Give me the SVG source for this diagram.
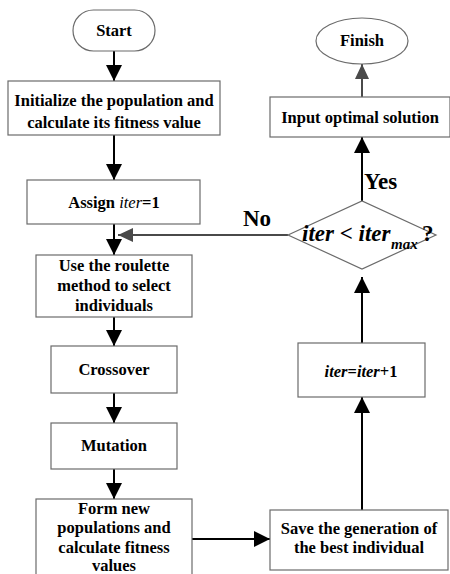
<svg xmlns="http://www.w3.org/2000/svg" width="450" height="574" viewBox="0 0 450 574">
  <defs>
    <marker id="ah" markerUnits="userSpaceOnUse" markerWidth="16" markerHeight="20" refX="16" refY="8" orient="auto">
      <path d="M0,0 L16,8 L0,16 Z" fill="#000"/>
    </marker>
    <marker id="ahg" markerUnits="userSpaceOnUse" markerWidth="16" markerHeight="16" refX="15" refY="7" orient="auto">
      <path d="M0,0 L15,7 L0,14 Z" fill="#4a4a4a"/>
    </marker>
  </defs>
  <style>
    .box { fill: #fff; stroke: #6b6b6b; stroke-width: 1.2; }
    .t { font-family: "Liberation Serif", "DejaVu Serif", "Times New Roman", serif; font-weight: bold; font-size: 16.5px; fill: #000; text-anchor: middle; }
    .ti { font-style: italic; }
    .line { stroke: #000; stroke-width: 2; fill: none; }
    .lineg { stroke: #4a4a4a; stroke-width: 2; fill: none; }
    .big { font-family: "Liberation Serif", "DejaVu Serif", "Times New Roman", serif; font-weight: bold; font-size: 23px; fill: #000; }
    .sub { font-family: "Liberation Serif", "DejaVu Serif", "Times New Roman", serif; font-weight: bold; font-style: italic; font-size: 15px; fill: #000; }
  </style>

  <!-- connectors -->
  <g id="connectors">
    <line class="line" x1="114" y1="51" x2="114" y2="81" marker-end="url(#ah)"/>
    <line class="line" x1="114" y1="135" x2="114" y2="180" marker-end="url(#ah)"/>
    <line class="line" x1="114" y1="224" x2="114" y2="255" marker-end="url(#ah)"/>
    <line class="lineg" x1="288" y1="235" x2="118" y2="235" marker-end="url(#ahg)"/>
    <line class="line" x1="114" y1="317" x2="114" y2="346" marker-end="url(#ah)"/>
    <line class="line" x1="114" y1="393" x2="114" y2="423" marker-end="url(#ah)"/>
    <line class="line" x1="114" y1="469" x2="114" y2="499" marker-end="url(#ah)"/>
    <line class="line" x1="192" y1="539" x2="270" y2="539" marker-end="url(#ah)"/>
    <line class="line" x1="362" y1="510" x2="362" y2="397" marker-end="url(#ah)"/>
    <line class="line" x1="362" y1="343" x2="362" y2="277" marker-end="url(#ah)"/>
    <line class="line" x1="362" y1="201" x2="362" y2="137" marker-end="url(#ah)"/>
    <line class="lineg" x1="362" y1="97" x2="362" y2="64" marker-end="url(#ahg)"/>
    <text class="big" x="243" y="226">No</text>
    <text class="big" x="364" y="189">Yes</text>
  </g>

  <g id="start">
    <rect class="box" x="73" y="10" width="82" height="41" rx="20.5" ry="20.5" stroke="#000"/>
    <text class="t" x="114" y="36">Start</text>
  </g>

  <g id="init">
    <rect class="box" x="8" y="81" width="212" height="54"/>
    <text class="t" x="114" y="106">Initialize the population and</text>
    <text class="t" x="114" y="128">calculate its fitness value</text>
  </g>

  <g id="assign">
    <rect class="box" x="27" y="180" width="173" height="44"/>
    <text class="t" x="114" y="208">Assign <tspan class="ti" font-weight="normal">iter</tspan>=1</text>
  </g>

  <g id="select">
    <rect class="box" x="36" y="255" width="156" height="62"/>
    <text class="t" x="114" y="271">Use the roulette</text>
    <text class="t" x="114" y="291">method to select</text>
    <text class="t" x="114" y="311">individuals</text>
  </g>

  <g id="crossover">
    <rect class="box" x="51" y="346" width="126" height="47"/>
    <text class="t" x="114" y="375">Crossover</text>
  </g>

  <g id="mutation">
    <rect class="box" x="51" y="423" width="126" height="46"/>
    <text class="t" x="114" y="451">Mutation</text>
  </g>

  <g id="form">
    <rect class="box" x="36" y="499" width="156" height="90"/>
    <text class="t" x="114" y="514">Form new</text>
    <text class="t" x="114" y="533">populations and</text>
    <text class="t" x="114" y="553">calculate fitness</text>
    <text class="t" x="114" y="571">values</text>
  </g>

  <g id="save">
    <rect class="box" x="270" y="510" width="178" height="60"/>
    <text class="t" x="359" y="534">Save the generation of</text>
    <text class="t" x="359" y="553">the best individual</text>
  </g>

  <g id="increment">
    <rect class="box" x="298" y="343" width="127" height="54"/>
    <text class="t ti" x="361" y="377" font-weight="normal">iter<tspan font-style="normal">=</tspan>iter<tspan font-style="normal" font-weight="bold">+1</tspan></text>
  </g>

  <g id="decision">
    <polygon class="box" points="288,235 362,201 436,235 362,269"/>
    <text class="big" x="302" y="241"><tspan font-style="italic">iter</tspan> &lt; <tspan font-style="italic">iter</tspan></text>
    <text class="sub" x="391" y="249">max</text>
    <text class="big" x="422" y="241">?</text>
  </g>

  <g id="output">
    <rect class="box" x="270" y="97" width="180" height="40"/>
    <text class="t" x="360" y="123">Input optimal solution</text>
  </g>

  <g id="finish">
    <ellipse class="box" cx="362" cy="41" rx="46" ry="23" stroke="#000"/>
    <text class="t" x="362" y="46">Finish</text>
  </g>
</svg>
